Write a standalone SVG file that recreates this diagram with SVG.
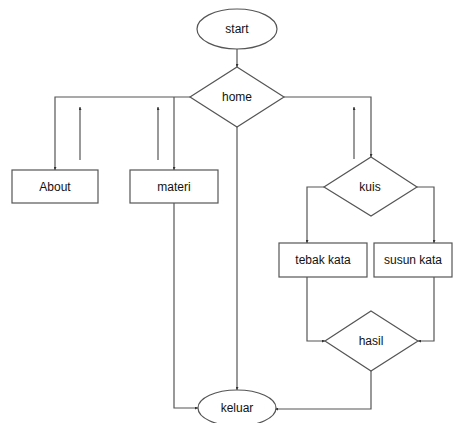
<svg xmlns="http://www.w3.org/2000/svg" width="453" height="423" viewBox="0 0 453 423">
<defs>
<marker id="ah" viewBox="0 0 6 6" refX="6" refY="3" markerWidth="3" markerHeight="3" orient="auto" markerUnits="userSpaceOnUse">
<path d="M0,0 L6,3 L0,6 z" fill="#333"/>
</marker>
<style>
.s{fill:#fff;stroke:#555;stroke-width:1.2}
.c{fill:none;stroke:#555;stroke-width:1.2;marker-end:url(#ah)}
.t{font-family:"Liberation Sans",Arial,sans-serif;font-size:12px;fill:#111;text-anchor:middle;dominant-baseline:central}
</style>
</defs>
<rect width="453" height="423" fill="#fff"/>
<g id="connectors">
<path class="c" d="M237,49 V67"/>
<path class="c" d="M190,97 H55 V170"/>
<path class="c" d="M174,97 V170"/>
<path class="c" d="M80,160 V107"/>
<path class="c" d="M158,160 V107"/>
<path class="c" d="M237,127 V390"/>
<path class="c" d="M174,203 V408 H198"/>
<path class="c" d="M284,97 H371 V157"/>
<path class="c" d="M354,159 V107"/>
<path class="c" d="M324,187 H307 V243"/>
<path class="c" d="M417,187 H434 V243"/>
<path class="c" d="M307,277 V341 H325"/>
<path class="c" d="M434,277 V341 H418"/>
<path class="c" d="M371,371 V409 H275"/>
</g>
<g id="start"><ellipse class="s" cx="237" cy="29" rx="40" ry="20"/><text class="t" x="237" y="29">start</text></g>
<g id="home"><polygon class="s" points="237,67 284,97 237,127 190,97"/><text class="t" x="237" y="97">home</text></g>
<g id="about"><rect class="s" x="12" y="170" width="86" height="33"/><text class="t" x="55" y="186.5">About</text></g>
<g id="materi"><rect class="s" x="130" y="170" width="88" height="33"/><text class="t" x="174" y="186.5">materi</text></g>
<g id="kuis"><polygon class="s" points="371,157 417,187 371,216 324,187"/><text class="t" x="370" y="187">kuis</text></g>
<g id="tebak"><rect class="s" x="279" y="243" width="88" height="34"/><text class="t" x="323" y="260">tebak kata</text></g>
<g id="susun"><rect class="s" x="374" y="243" width="78" height="34"/><text class="t" x="413" y="260">susun kata</text></g>
<g id="hasil"><polygon class="s" points="371,311 418,341 371,371 325,341"/><text class="t" x="371" y="341">hasil</text></g>
<g id="keluar"><ellipse class="s" cx="237" cy="408" rx="39" ry="18"/><text class="t" x="237" y="408">keluar</text></g>
</svg>
